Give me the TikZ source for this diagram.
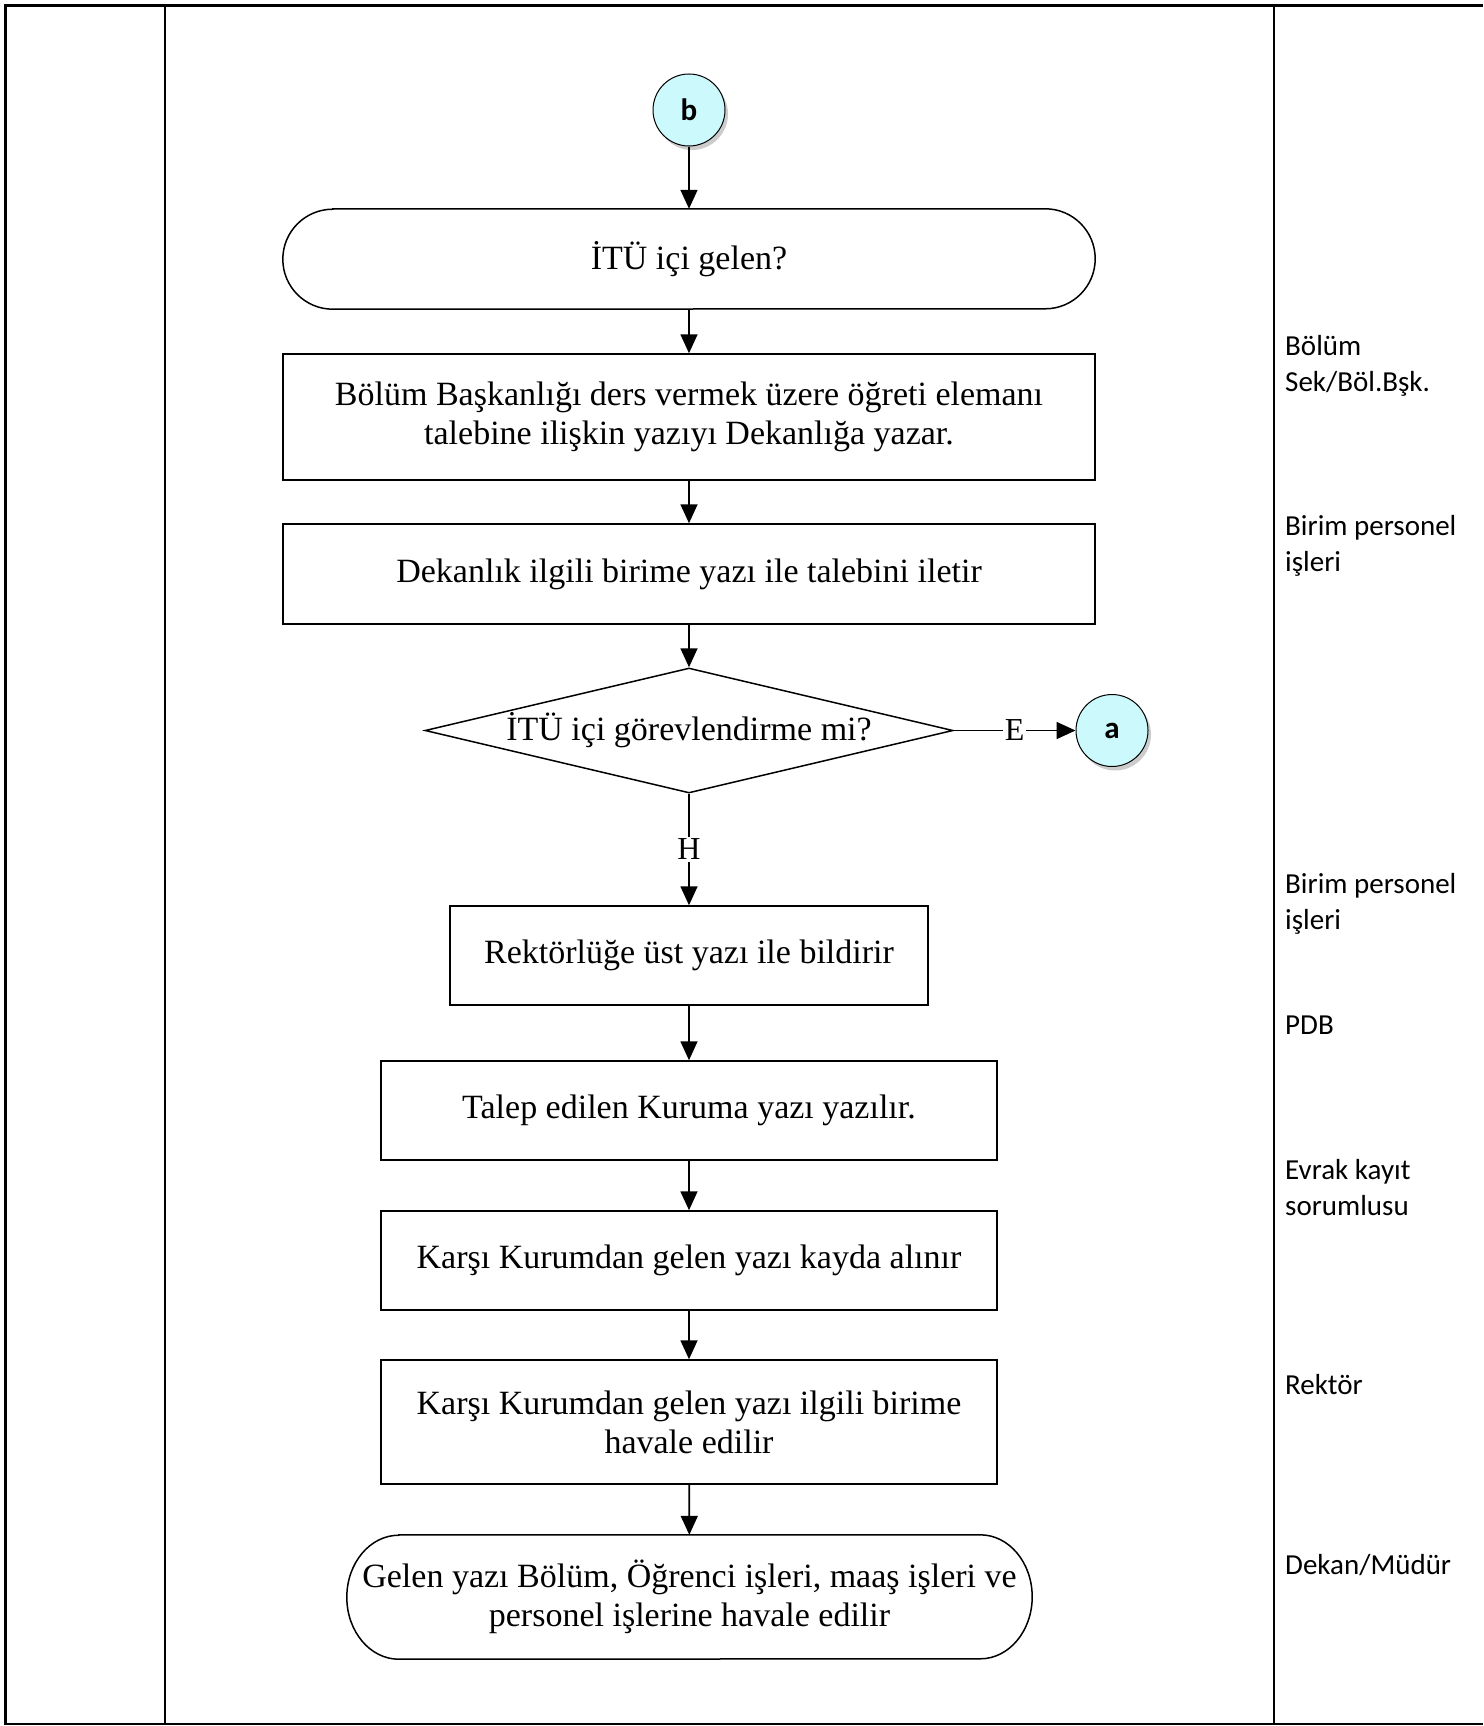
\documentclass[tikz,border=0pt]{standalone}
\usepackage{fontspec}
\setmainfont{Liberation Serif}
\newfontfamily\lanefont{Carlito}
\usetikzlibrary{arrows.meta,shapes.geometric,shadows}
\definecolor{connfill}{RGB}{204,250,252}
\begin{document}
\begin{tikzpicture}[x=1pt,y=-1pt,
  every node/.style={inner sep=0pt},
  boxfont/.style={font=\fontsize{34}{39}\selectfont},
  stepbox/.style={draw, line width=1.5pt, align=center, boxfont},
  termtext/.style={align=center, boxfont},
  termline/.style={line width=1.5pt},
  decision/.style={draw, line width=1.5pt, diamond, aspect=4.22, boxfont},
  connector/.style={circle, draw, line width=1pt, fill=connfill, minimum size=72pt,
    font=\lanefont\bfseries\fontsize{31}{34}\selectfont,
    drop shadow={shadow xshift=3pt, shadow yshift=-4pt, opacity=0.2, fill=black}},
  flow/.style={line width=1.7pt, -{Triangle[length=19pt,width=17pt]}},
  lane/.style={anchor=north west, align=left, font=\lanefont\fontsize{29}{36}\selectfont},
  frame/.style={line width=2.4pt},
  branch/.style={fill=white, inner sep=2pt, font=\fontsize{32}{36}\selectfont}
]
\useasboundingbox (0,0) rectangle (1483,1726);

% table frame and column rules
\draw[frame] (1483,5.5) -- (5.5,5.5) -- (5.5,1724) -- (1483,1724);
\draw[frame] (165,5.5) -- (165,1724);
\draw[frame] (1274,5.5) -- (1274,1724);

% flow steps
\node[connector] (b) at (689,110) {b};
\node[termtext, minimum width=812pt, minimum height=100pt] (t1) at (689,259) {İTÜ içi gelen?};
\draw[termline] ([xshift=50pt]t1.north west) -- ([xshift=-50pt]t1.north east)
  arc[start angle=90, end angle=-90, radius=50pt]
  -- ([xshift=50pt]t1.south west)
  arc[start angle=270, end angle=90, radius=50pt] -- cycle;
\node[stepbox, minimum width=812pt, minimum height=126pt] (s1) at (689,417)
  {Bölüm Başkanlığı ders vermek üzere öğreti elemanı\\talebine ilişkin yazıyı Dekanlığa yazar.};
\node[stepbox, minimum width=812pt, minimum height=100pt] (s2) at (689,574)
  {Dekanlık ilgili birime yazı ile talebini iletir};
\node[decision, minimum width=528pt, minimum height=125pt] (d) at (689,730.5)
  {İTÜ içi görevlendirme mi?};
\node[connector] (a) at (1112,730.5) {a};
\node[stepbox, minimum width=478pt, minimum height=99pt] (s3) at (689,955.5)
  {Rektörlüğe üst yazı ile bildirir};
\node[stepbox, minimum width=616pt, minimum height=99pt] (s4) at (689,1110.5)
  {Talep edilen Kuruma yazı yazılır.};
\node[stepbox, minimum width=616pt, minimum height=99pt] (s5) at (689,1260.5)
  {Karşı Kurumdan gelen yazı kayda alınır};
\node[stepbox, minimum width=616pt, minimum height=124pt] (s6) at (689,1422)
  {Karşı Kurumdan gelen yazı ilgili birime\\havale edilir};
\node[termtext, minimum width=685pt, minimum height=124pt] (t2) at (689.5,1597)
  {Gelen yazı Bölüm, Öğrenci işleri, maaş işleri ve\\personel işlerine havale edilir};
\draw[termline] ([xshift=52pt]t2.north west) -- ([xshift=-52pt]t2.north east)
  arc[start angle=90, end angle=-90, x radius=52pt, y radius=62pt]
  -- ([xshift=52pt]t2.south west)
  arc[start angle=270, end angle=90, x radius=52pt, y radius=62pt] -- cycle;

% connectors
\draw[flow] (b) -- (t1);
\draw[flow] (t1) -- (s1);
\draw[flow] (s1) -- (s2);
\draw[flow] (s2) -- (d);
\draw[flow] (d.east) -- node[branch] {E} (a.west);
\draw[flow] (d.south) -- node[branch] {H} (s3.north);
\draw[flow] (s3) -- (s4);
\draw[flow] (s4) -- (s5);
\draw[flow] (s5) -- (s6);
\draw[flow] (s6) -- (t2);

% responsible units
\node[lane] (l1) at (1285,335) {Bölüm\\Sek/Böl.Bşk.};
\node[lane] (l2) at (1285,515) {Birim personel\\işleri};
\node[lane] (l3) at (1285,873) {Birim personel\\işleri};
\node[lane] (l4) at (1285,1016) {PDB};
\node[lane] (l5) at (1285,1159) {Evrak kayıt\\sorumlusu};
\node[lane] (l6) at (1285,1374) {Rektör};
\node[lane] (l7) at (1285,1554) {Dekan/Müdür};
\end{tikzpicture}
\end{document}
